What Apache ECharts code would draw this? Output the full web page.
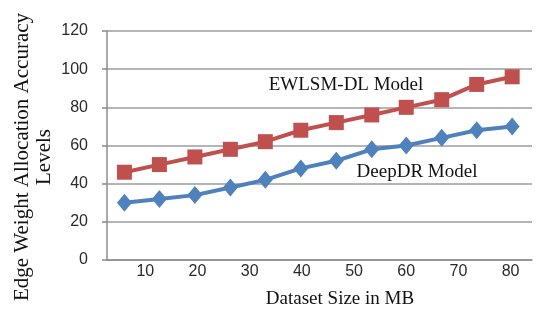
<!DOCTYPE html>
<html>
<head>
<meta charset="utf-8">
<script src="https://cdn.jsdelivr.net/npm/echarts@6/dist/echarts.min.js"></script>
<style>
  html, body { margin: 0; padding: 0; background: #fff; }
  #myChart { width: 540px; height: 314px; }
</style>
</head>
<body>
<div id="myChart"></div>
<script>
const sizes = [6, 12.7, 19.5, 26.3, 33, 39.8, 46.6, 53.4, 60, 66.8, 73.5, 80.3]
// accuracy levels
const ewlsm = [46, 50, 54, 58, 62, 68, 72, 76, 80, 84, 92, 96]
const deepdr = [30, 32, 34, 38, 42, 48, 52, 58, 60, 64, 68, 70]
const yTicks = [0, 20, 40, 60, 80, 100, 120]

const serif = '"Liberation Serif", "Times New Roman", serif'
const sans = '"Liberation Sans", Arial, sans-serif'

function pairs (ys) {
  return sizes.map(function (x, i) { return [x, ys[i]] })
}

let myChart = echarts.init(document.getElementById('myChart'))
myChart.setOption({
  animation: false,
  grid: { left: 107, right: 8, top: 31, bottom: 53 },
  xAxis: {
    type: 'value',
    min: 2.66,
    max: 84.1,
    splitNumber: 8,
    name: 'Dataset Size in MB',
    nameLocation: 'middle',
    nameGap: 30,
    nameTextStyle: { fontFamily: serif, fontSize: 19, color: '#111', padding: [0, 0, 0, 41] },
    axisLine: { lineStyle: { color: '#8c8c8c', width: 1.5 } },
    axisTick: { show: false },
    splitLine: { show: false },
    axisLabel: {
      margin: 4,
      fontFamily: sans,
      fontSize: 16,
      color: '#2a2a2a',
      showMinLabel: false,
      showMaxLabel: false,
      formatter: function (v) { return Math.abs(v % 10) < 1e-6 ? String(v) : '' }
    }
  },
  yAxis: {
    type: 'value',
    min: yTicks[0],
    max: yTicks[yTicks.length - 1],
    interval: 20,
    axisLine: { show: true, lineStyle: { color: '#8c8c8c', width: 1.5 } },
    axisTick: { show: true, length: 5, lineStyle: { color: '#8c8c8c', width: 1.5 } },
    splitLine: { lineStyle: { color: '#9c9c9c', width: 1.5 } },
    axisLabel: { margin: 19, fontFamily: sans, fontSize: 16, color: '#2a2a2a' }
  },
  graphic: [
    {
      type: 'text',
      x: 33,
      y: 157,
      rotation: Math.PI / 2,
      style: {
        text: 'Edge Weight Allocation Accuracy\nLevels',
        fontFamily: serif,
        fontSize: 21,
        lineHeight: 22,
        fill: '#111',
        textAlign: 'center',
        textVerticalAlign: 'middle'
      }
    },
    {
      type: 'text',
      x: 346,
      y: 85,
      style: { text: 'EWLSM-DL Model', fontFamily: serif, fontSize: 19, fill: '#111', textAlign: 'center', textVerticalAlign: 'middle' }
    },
    {
      type: 'text',
      x: 417,
      y: 172,
      style: { text: 'DeepDR Model', fontFamily: serif, fontSize: 19, fill: '#111', textAlign: 'center', textVerticalAlign: 'middle' }
    }
  ],
  series: [
    {
      name: 'EWLSM-DL Model',
      type: 'line',
      data: pairs(ewlsm),
      symbol: 'rect',
      symbolSize: 15,
      lineStyle: { color: '#c0504d', width: 4 },
      itemStyle: { color: '#c0504d' }
    },
    {
      name: 'DeepDR Model',
      type: 'line',
      data: pairs(deepdr),
      symbol: 'diamond',
      symbolSize: [15, 18],
      lineStyle: { color: '#4f81bd', width: 4 },
      itemStyle: { color: '#4f81bd' }
    }
  ]
})
</script>
</body>
</html>
